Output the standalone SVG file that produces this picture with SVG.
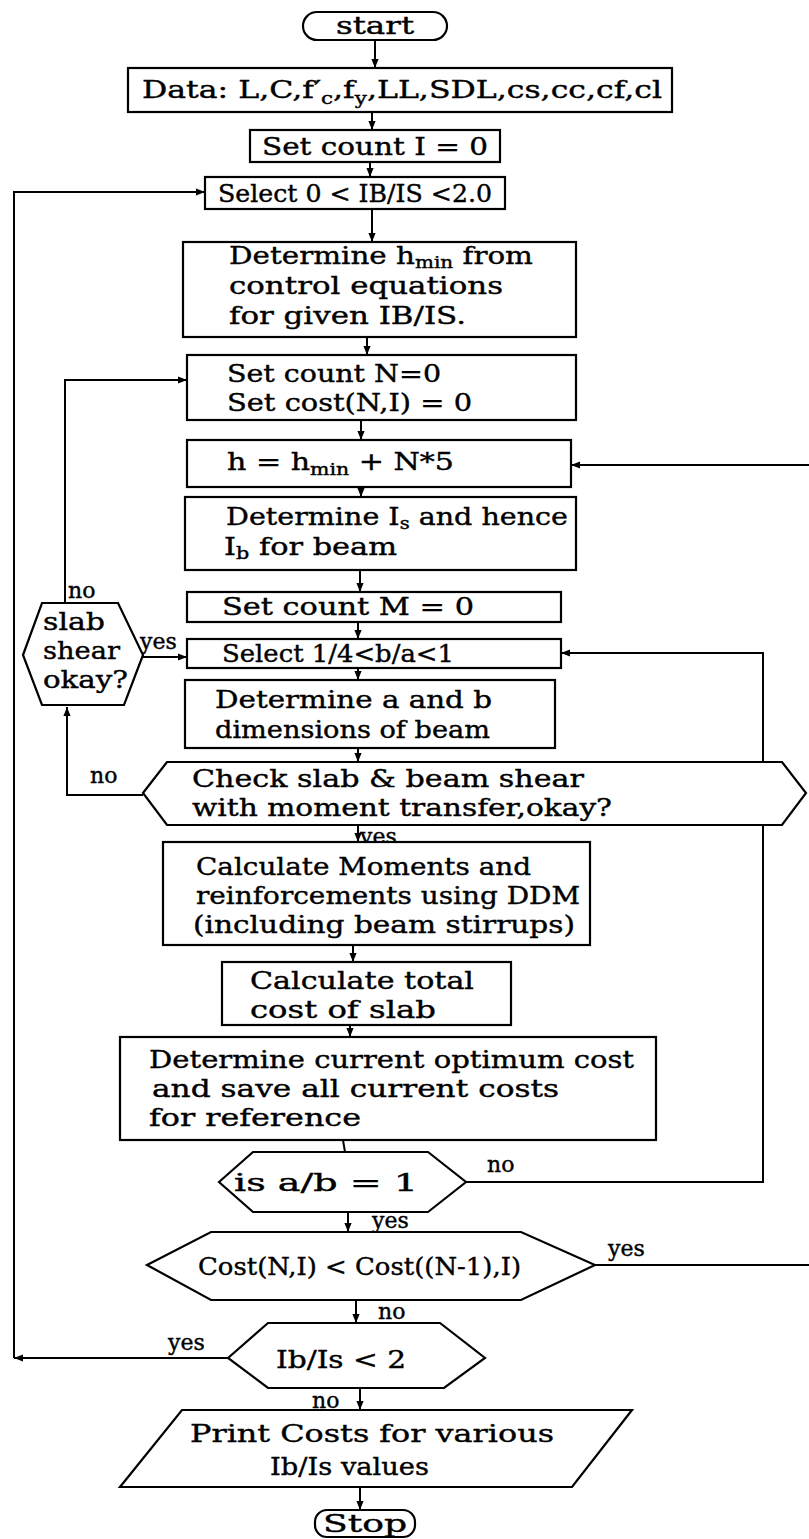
<svg xmlns="http://www.w3.org/2000/svg" width="809" height="1539" viewBox="0 0 809 1539">
<defs>
<style>
.b{fill:#fff;stroke:#000;stroke-width:2.2}
.c{fill:none;stroke:#000;stroke-width:2}
.t,.l{font-family:"DejaVu Serif","Liberation Serif",serif;fill:#000;stroke:#000;stroke-width:0.4}
.t{font-size:25px}
.l{font-size:22px}
</style>
<marker id="a" viewBox="0 0 10 10" refX="10" refY="5" markerWidth="9" markerHeight="9" markerUnits="userSpaceOnUse" orient="auto"><path d="M0,1 L10,5 L0,9 z" fill="#000"/></marker>
</defs>
<rect width="809" height="1539" fill="#fff"/>
<g id="connectors">
<path class="c" d="M375,40 V68" marker-end="url(#a)"/>
<path class="c" d="M372,112 V130" marker-end="url(#a)"/>
<path class="c" d="M370,162 V177" marker-end="url(#a)"/>
<path class="c" d="M372,209 V242" marker-end="url(#a)"/>
<path class="c" d="M367,337 V355" marker-end="url(#a)"/>
<path class="c" d="M361,420 V440" marker-end="url(#a)"/>
<path class="c" d="M361,487 V497" marker-end="url(#a)"/>
<path class="c" d="M360,570 V592" marker-end="url(#a)"/>
<path class="c" d="M358,622 V639" marker-end="url(#a)"/>
<path class="c" d="M358,668 V680" marker-end="url(#a)"/>
<path class="c" d="M358,748 V762" marker-end="url(#a)"/>
<path class="c" d="M358,825 V842" marker-end="url(#a)"/>
<path class="c" d="M353,945 V962" marker-end="url(#a)"/>
<path class="c" d="M350,1025 V1037" marker-end="url(#a)"/>
<path class="c" d="M343,1140 L345,1152"/>
<path class="c" d="M348,1212 V1232" marker-end="url(#a)"/>
<path class="c" d="M356,1300 V1323" marker-end="url(#a)"/>
<path class="c" d="M360,1388 V1410" marker-end="url(#a)"/>
<path class="c" d="M360,1487 V1510" marker-end="url(#a)"/>
<path class="c" d="M228,1358 H14" marker-end="url(#a)"/>
<path class="c" d="M14,1358 V192 H205" marker-end="url(#a)"/>
<path class="c" d="M65,603 V380 H187" marker-end="url(#a)"/>
<path class="c" d="M143,657 H187" marker-end="url(#a)"/>
<path class="c" d="M143,795 H67 V707" marker-end="url(#a)"/>
<path class="c" d="M466,1182 H763 V653 H561" marker-end="url(#a)"/>
<path class="c" d="M595,1265 H812 V465 H571" marker-end="url(#a)"/>
<text class="l" x="360" y="844">yes</text>
<text class="l" x="372" y="1228">yes</text>
<text class="l" x="378" y="1319">no</text>
<text class="l" x="312" y="1408">no</text>
<text class="l" x="168" y="1350">yes</text>
<text class="l" x="68" y="598">no</text>
<text class="l" x="140" y="649">yes</text>
<text class="l" x="90" y="783">no</text>
<text class="l" x="487" y="1172">no</text>
<text class="l" x="608" y="1256">yes</text>
</g>
<g id="start"><rect class="b" x="303" y="12" width="144" height="28" rx="14"/><text class="t" x="375" y="34" text-anchor="middle" textLength="78" lengthAdjust="spacingAndGlyphs">start</text></g>
<g id="data"><rect class="b" x="128" y="68" width="544" height="44"/><text class="t" x="142" y="98" textLength="520" lengthAdjust="spacingAndGlyphs">Data: L,C,f′<tspan dy="6" font-size="17">c</tspan><tspan dy="-6">,f</tspan><tspan dy="6" font-size="17">y</tspan><tspan dy="-6">,LL,SDL,cs,cc,cf,cl</tspan></text></g>
<g id="setI"><rect class="b" x="250" y="130" width="250" height="32"/><text class="t" x="262" y="155" textLength="226" lengthAdjust="spacingAndGlyphs">Set count I = 0</text></g>
<g id="select0"><rect class="b" x="205" y="177" width="300" height="32"/><text class="t" x="218" y="202" textLength="274" lengthAdjust="spacingAndGlyphs">Select 0 &lt; IB/IS &lt;2.0</text></g>
<g id="detH"><rect class="b" x="183" y="242" width="393" height="95"/><text class="t" x="229" y="264" textLength="304" lengthAdjust="spacingAndGlyphs">Determine h<tspan dy="4" font-size="17">min</tspan><tspan dy="-4"> from</tspan></text><text class="t" x="229" y="294" textLength="274" lengthAdjust="spacingAndGlyphs">control equations</text><text class="t" x="229" y="324" textLength="237" lengthAdjust="spacingAndGlyphs">for given IB/IS.</text></g>
<g id="setN"><rect class="b" x="187" y="355" width="389" height="65"/><text class="t" x="227" y="382" textLength="214" lengthAdjust="spacingAndGlyphs">Set count N=0</text><text class="t" x="227" y="411" textLength="245" lengthAdjust="spacingAndGlyphs">Set cost(N,I) = 0</text></g>
<g id="h"><rect class="b" x="187" y="440" width="384" height="47"/><text class="t" x="227" y="470" textLength="227" lengthAdjust="spacingAndGlyphs">h = h<tspan dy="5" font-size="17">min</tspan><tspan dy="-5"> + N*5</tspan></text></g>
<g id="detIs"><rect class="b" x="185" y="497" width="391" height="73"/><text class="t" x="226" y="525" textLength="342" lengthAdjust="spacingAndGlyphs">Determine I<tspan dy="4" font-size="17">s</tspan><tspan dy="-4"> and hence</tspan></text><text class="t" x="224" y="555" textLength="173" lengthAdjust="spacingAndGlyphs">I<tspan dy="4" font-size="17">b</tspan><tspan dy="-4"> for beam</tspan></text></g>
<g id="slab"><polygon class="b" points="23,655 42,603 118,603 143,655 124,705 42,705"/><text class="t" x="43" y="630" textLength="62" lengthAdjust="spacingAndGlyphs">slab</text><text class="t" x="43" y="659" textLength="77" lengthAdjust="spacingAndGlyphs">shear</text><text class="t" x="43" y="688" textLength="85" lengthAdjust="spacingAndGlyphs">okay?</text></g>
<g id="setM"><rect class="b" x="187" y="592" width="374" height="30"/><text class="t" x="222" y="615" textLength="252" lengthAdjust="spacingAndGlyphs">Set count M = 0</text></g>
<g id="sel14"><rect class="b" x="187" y="639" width="374" height="29"/><text class="t" x="222" y="662" textLength="232" lengthAdjust="spacingAndGlyphs">Select 1/4&lt;b/a&lt;1</text></g>
<g id="detab"><rect class="b" x="185" y="680" width="370" height="68"/><text class="t" x="215" y="708" textLength="277" lengthAdjust="spacingAndGlyphs">Determine a and b</text><text class="t" x="215" y="738" textLength="275" lengthAdjust="spacingAndGlyphs">dimensions of beam</text></g>
<g id="check"><polygon class="b" points="143,793 167,762 782,762 806,793 782,825 167,825"/><text class="t" x="192" y="787" textLength="392" lengthAdjust="spacingAndGlyphs">Check slab &amp; beam shear</text><text class="t" x="192" y="816" textLength="420" lengthAdjust="spacingAndGlyphs">with moment transfer,okay?</text></g>
<g id="calcM"><rect class="b" x="163" y="842" width="427" height="103"/><text class="t" x="196" y="875" textLength="335" lengthAdjust="spacingAndGlyphs">Calculate Moments and</text><text class="t" x="196" y="904" textLength="384" lengthAdjust="spacingAndGlyphs">reinforcements using DDM</text><text class="t" x="193" y="933" textLength="382" lengthAdjust="spacingAndGlyphs">(including beam stirrups)</text></g>
<g id="calcT"><rect class="b" x="222" y="962" width="289" height="63"/><text class="t" x="250" y="989" textLength="224" lengthAdjust="spacingAndGlyphs">Calculate total</text><text class="t" x="250" y="1018" textLength="186" lengthAdjust="spacingAndGlyphs">cost of slab</text></g>
<g id="detC"><rect class="b" x="120" y="1037" width="536" height="103"/><text class="t" x="149" y="1068" textLength="485" lengthAdjust="spacingAndGlyphs">Determine current optimum cost</text><text class="t" x="152" y="1097" textLength="407" lengthAdjust="spacingAndGlyphs">and save all current costs</text><text class="t" x="149" y="1126" textLength="212" lengthAdjust="spacingAndGlyphs">for reference</text></g>
<g id="isab"><polygon class="b" points="219,1182 253,1152 428,1152 466,1182 428,1212 253,1212"/><text class="t" x="234" y="1191" textLength="184" lengthAdjust="spacingAndGlyphs">is  a/b = 1</text></g>
<g id="cost"><polygon class="b" points="147,1265 211,1232 521,1232 595,1265 521,1300 211,1300"/><text class="t" x="198" y="1275" textLength="323" lengthAdjust="spacingAndGlyphs">Cost(N,I) &lt; Cost((N-1),I)</text></g>
<g id="ibis"><polygon class="b" points="228,1358 268,1323 440,1323 485,1358 444,1388 268,1388"/><text class="t" x="276" y="1368" textLength="130" lengthAdjust="spacingAndGlyphs">Ib/Is &lt; 2</text></g>
<g id="print"><polygon class="b" points="182,1410 632,1410 572,1487 120,1487"/><text class="t" x="190" y="1442" textLength="364" lengthAdjust="spacingAndGlyphs">Print Costs for various</text><text class="t" x="270" y="1475" textLength="159" lengthAdjust="spacingAndGlyphs">Ib/Is values</text></g>
<g id="stop"><rect class="b" x="315" y="1510" width="100" height="27" rx="12"/><text class="t" x="323" y="1532" textLength="84" lengthAdjust="spacingAndGlyphs">Stop</text></g>
</svg>
